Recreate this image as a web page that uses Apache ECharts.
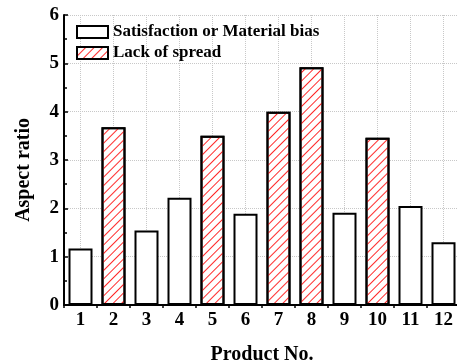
<!DOCTYPE html>
<html>
<head>
<meta charset="utf-8">
<script src="https://cdn.jsdelivr.net/npm/echarts@6/dist/echarts.min.js"></script>
<style>
html,body{margin:0;padding:0;background:#fff;}
#chart{width:457px;height:364px;}
</style>
</head>
<body>
<div id="chart"></div>
<script>
var categories = ['1','2','3','4','5','6','7','8','9','10','11','12'];
var satisfactionValues = [1.17, null, 1.54, 2.22, null, 1.89, null, null, 1.91, null, 2.05, 1.30];
var spreadValues = [null, 3.68, null, null, 3.50, null, 4.00, 4.92, null, 3.46, null, null];
var seriesNames = ['Satisfaction or Material bias', 'Lack of spread'];
var yTickLabels = ['0','1','2','3','4','5','6'];

var font = 'Liberation Serif';
var chart = echarts.init(document.getElementById('chart'));
var mapData = function (arr) { return arr.map(function (v) { return v == null ? '-' : v; }); };

var hatchDecal = {
  symbol: 'rect',
  symbolSize: 1,
  dashArrayX: [1, 0],
  dashArrayY: [1, 5],
  rotation: -Math.PI / 4,
  color: '#ff2a2a'
};

chart.setOption({
  animation: false,
  backgroundColor: '#fff',
  grid: { left: 64, top: 15, bottom: 59, width: 396, containLabel: false, outerBoundsMode: 'none' },
  legend: {
    orient: 'vertical', left: 76, top: 23, padding: 0,
    itemWidth: 31, itemHeight: 12, itemGap: 3,
    icon: 'rect',
    textStyle: { fontFamily: font, fontWeight: 'bold', fontSize: 17, color: '#000', lineHeight: 18 },
    data: seriesNames
  },
  xAxis: [{
    type: 'category', data: categories, position: 'bottom',
    axisLine: { lineStyle: { color: '#000', width: 2 } },
    axisTick: { show: false },
    axisLabel: { fontFamily: font, fontWeight: 'bold', fontSize: 19, color: '#000', margin: 6 },
    splitLine: { show: true, alignWithLabel: true, lineStyle: { color: '#c8c8c8', type: 'dotted', width: 1 } },
    name: 'Product No.', nameLocation: 'middle', nameGap: 40,
    nameTextStyle: { fontFamily: font, fontWeight: 'bold', fontSize: 20, color: '#000' }
  }, {
    type: 'category', data: categories, position: 'top',
    axisLine: { lineStyle: { color: '#000', width: 2 } },
    axisTick: { show: true, inside: true, length: 3, lineStyle: { color: '#000', width: 1.5 } },
    axisLabel: { show: false },
    splitLine: { show: false }
  }],
  yAxis: [{
    type: 'value', min: 0, max: 6, interval: 1, position: 'left',
    axisLine: { show: true, lineStyle: { color: '#000', width: 2 } },
    axisTick: { show: true, inside: true, length: 4, lineStyle: { color: '#000', width: 1.5 } },
    minorTick: { show: true, splitNumber: 2, length: 3, lineStyle: { color: '#000', width: 1.5 } },
    axisLabel: {
      fontFamily: font, fontWeight: 'bold', fontSize: 19, color: '#000', margin: 5,
      formatter: function (v) { return yTickLabels[Math.round(v)]; }
    },
    splitLine: { show: true, lineStyle: { color: '#c8c8c8', type: 'dotted', width: 1 } }
  }, {
    type: 'value', min: 0, max: 6, interval: 1, position: 'right',
    axisLine: { show: true, lineStyle: { color: '#000', width: 2 } },
    axisTick: { show: false, inside: true },
    minorTick: { show: true, splitNumber: 2, length: 3, lineStyle: { color: '#000', width: 1.5 } },
    axisLabel: { show: false },
    splitLine: { show: false }
  }],
  graphic: [{
    type: 'text', left: 14, top: 118,
    rotation: Math.PI / 2,
    originX: 0, originY: 0,
    style: { text: 'Aspect ratio', fontFamily: font, fontWeight: 'bold', fontSize: 20, fill: '#000' }
  }],
  series: [{
    name: seriesNames[0], type: 'bar', barWidth: 24, barGap: '-100%',
    data: mapData(satisfactionValues),
    itemStyle: { color: '#fff', borderColor: '#000', borderWidth: 2 }
  }, {
    name: seriesNames[1], type: 'bar', barWidth: 24, barGap: '-100%',
    data: mapData(spreadValues),
    itemStyle: { color: '#fff', borderColor: '#000', borderWidth: 2, decal: hatchDecal }
  }]
});
</script>
</body>
</html>
